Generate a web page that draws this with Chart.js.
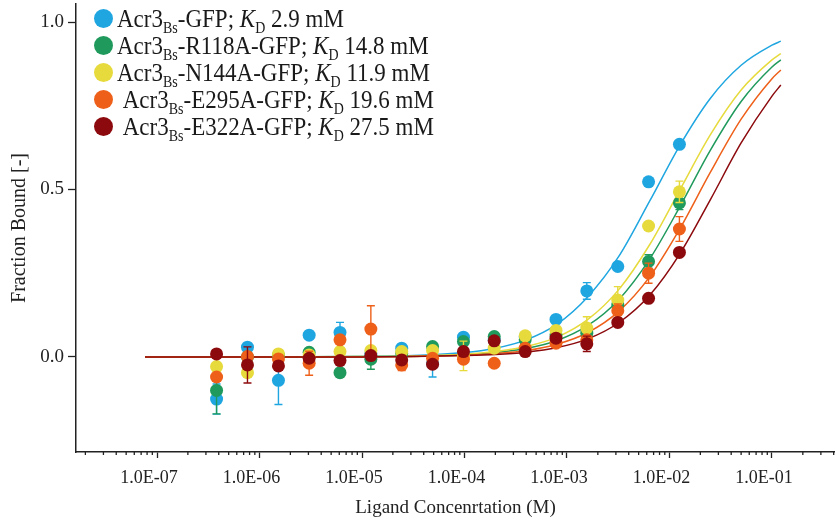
<!DOCTYPE html>
<html>
<head>
<meta charset="utf-8">
<script src="https://cdn.jsdelivr.net/npm/chart.js@4.4.1/dist/chart.umd.min.js"></script>
<style>
  html, body { margin: 0; padding: 0; background: #fff; }
  #wrap { position: relative; width: 835px; height: 521px; }
  #legend { position: absolute; left: 94px; top: 5px; font-family: "Liberation Serif", serif; font-size: 23px; color: #1a1a1a; }
  .row { height: 27px; line-height: 27px; white-space: nowrap; }
  .dot { display: inline-block; width: 19px; height: 19px; border-radius: 50%; vertical-align: middle; margin-right: 4px; position: relative; top: -2px; }
  .txt { display: inline-block; transform: scaleY(1.12); transform-origin: 50% 55%; }
  .row sub { font-size: 14px; vertical-align: -6px; line-height: 0; }
</style>
</head>
<body>
<div id="wrap">
  <canvas id="chart" width="835" height="521"></canvas>
  <div id="legend"></div>
</div>
<script>
// ligand concentrations (M), 2-fold dilution series
const conc = [3.81e-7, 7.63e-7, 1.53e-6, 3.05e-6, 6.10e-6, 1.22e-5, 2.44e-5, 4.88e-5,
              9.77e-5, 1.95e-4, 3.91e-4, 7.81e-4, 1.56e-3, 3.13e-3, 6.25e-3, 1.25e-2];

const wtY     = [-0.126, 0.029, -0.070, 0.065, 0.073, 0.010, 0.026, -0.020, 0.059, 0.050, 0.060, 0.112, 0.197, 0.270, 0.523, 0.635];
const r118aY  = [-0.100, 0.000, 0.005, 0.014, -0.047, -0.007, 0.010, 0.031, 0.046, 0.061, 0.051, 0.066, 0.071, 0.155, 0.285, 0.460];
const n144aY  = [-0.029, -0.047, 0.009, 0.006, 0.016, 0.019, 0.016, 0.019, 0.003, 0.026, 0.063, 0.079, 0.086, 0.170, 0.391, 0.493];
const e295aY  = [-0.060, 0.001, -0.006, -0.019, 0.051, 0.083, -0.024, -0.004, -0.007, -0.019, 0.026, 0.041, 0.051, 0.138, 0.250, 0.382];
const e322aY  = [0.009, -0.024, -0.027, -0.004, -0.011, 0.004, -0.009, -0.022, 0.016, 0.048, 0.016, 0.056, 0.039, 0.103, 0.175, 0.312];

const wtErr    = [0.045, 0.010, 0.072, 0.010, 0.030, 0.010, 0.010, 0.040, 0.010, 0.010, 0.010, 0.010, 0.025, 0.010, 0.010, 0.010];
const r118aErr = [0.070, 0.010, 0.010, 0.010, 0.010, 0.030, 0.010, 0.010, 0.010, 0.010, 0.010, 0.010, 0.010, 0.015, 0.020, 0.020];
const n144aErr = [0.010, 0.010, 0.010, 0.010, 0.010, 0.010, 0.010, 0.010, 0.044, 0.010, 0.010, 0.010, 0.034, 0.040, 0.010, 0.032];
const e295aErr = [0.010, 0.010, 0.010, 0.036, 0.010, 0.070, 0.017, 0.010, 0.010, 0.010, 0.010, 0.010, 0.010, 0.020, 0.030, 0.037];
const e322aErr = [0.010, 0.054, 0.010, 0.010, 0.010, 0.010, 0.010, 0.010, 0.010, 0.010, 0.010, 0.010, 0.023, 0.010, 0.010, 0.010];

// fitted curves
const fitConc = [7.63e-8, 1e-6, 1e-5, 1e-4, 2e-4, 4e-4, 8e-4, 1.6e-3, 3.2e-3, 6.4e-3, 1.28e-2, 2.5e-2, 5e-2, 1e-1, 1.22e-1];
const wtFit    = [0, 0, 0.001, 0.013, 0.026, 0.051, 0.098, 0.180, 0.300, 0.465, 0.635, 0.772, 0.871, 0.931, 0.943];
const r118aFit = [0, 0, 0.001, 0.006, 0.013, 0.025, 0.049, 0.094, 0.171, 0.292, 0.452, 0.617, 0.763, 0.866, 0.887];
const n144aFit = [0, 0, 0.001, 0.008, 0.016, 0.031, 0.059, 0.112, 0.201, 0.335, 0.502, 0.663, 0.797, 0.887, 0.906];
const e295aFit = [0, 0, 0, 0.005, 0.010, 0.019, 0.038, 0.073, 0.136, 0.239, 0.386, 0.551, 0.710, 0.831, 0.857];
const e322aFit = [0, 0, 0, 0.004, 0.007, 0.014, 0.028, 0.054, 0.102, 0.184, 0.311, 0.469, 0.639, 0.779, 0.812];

const names  = ['', '-R118A', '-N144A', '-E295A', '-E322A'];
const kdText = ['2.9', '14.8', '11.9', '19.6', '27.5'];
const colors = ['#1FA6E0', '#1F9A5C', '#E6DA3C', '#EE6019', '#8C0A0D'];

const xTickVals   = [1e-7, 1e-6, 1e-5, 1e-4, 1e-3, 1e-2, 1e-1];
const xTickLabels = ['1.0E-07', '1.0E-06', '1.0E-05', '1.0E-04', '1.0E-03', '1.0E-02', '1.0E-01'];
const yTickVals   = [0, 0.5, 1.0];

const xMin = 1.62e-8, xMax = 0.412;
const yMin = -0.284, yMax = 1.054;

const pointSets = [wtY, r118aY, n144aY, e295aY, e322aY];
const errSets   = [wtErr, r118aErr, n144aErr, e295aErr, e322aErr];
const fitSets   = [wtFit, r118aFit, n144aFit, e295aFit, e322aFit];

// legend (html, so the subscripts stay real text)
const legend = document.getElementById('legend');
names.forEach((n, i) => {
  const row = document.createElement('div');
  row.className = 'row';
  row.innerHTML = '<span class="dot" style="background:' + colors[i] + '"></span>' +
    (i >= 3 ? ' ' : '') + '<span class="txt">Acr3<sub>Bs</sub>' + n + '-GFP; <i>K</i><sub>D</sub> ' + kdText[i] + ' mM</span>';
  legend.appendChild(row);
});

// all ticks of the log axis: decades plus 2..9 minors
const allXTicks = [];
for (let e = -8; e <= -1; e++) {
  for (let m = 1; m <= 9; m++) {
    const v = m * Math.pow(10, e);
    if (v >= xMin && v <= xMax) allXTicks.push({ value: v, major: m === 1 });
  }
}

const datasets = [];
pointSets.forEach((vals, i) => {
  datasets.push({
    data: conc.map((c, k) => ({ x: c, y: vals[k] })),
    errors: errSets[i],
    backgroundColor: colors[i],
    borderColor: colors[i],
    pointRadius: 6.5,
    pointBorderWidth: 0,
    showLine: false,
    order: 5 - i
  });
});
fitSets.forEach((vals, i) => {
  datasets.push({
    data: fitConc.map((c, k) => ({ x: c, y: vals[k] })),
    borderColor: colors[i],
    borderWidth: 1.5,
    pointRadius: 0,
    showLine: true,
    cubicInterpolationMode: 'monotone',
    order: 10 - i
  });
});

const errorBars = {
  id: 'errorBars',
  afterDatasetDraw(chart, args) {
    const ds = chart.data.datasets[args.index];
    if (!ds.errors) return;
    const xs = chart.scales.x, ys = chart.scales.y, c = chart.ctx;
    c.save();
    c.strokeStyle = ds.borderColor;
    c.lineWidth = 1.4;
    ds.data.forEach((p, k) => {
      const e = ds.errors[k];
      const px = xs.getPixelForValue(p.x);
      const t = ys.getPixelForValue(p.y + e), b = ys.getPixelForValue(p.y - e);
      c.beginPath();
      c.moveTo(px, t); c.lineTo(px, b);
      c.moveTo(px - 4, t); c.lineTo(px + 4, t);
      c.moveTo(px - 4, b); c.lineTo(px + 4, b);
      c.stroke();
    });
    c.restore();
  }
};

const minorTicks = {
  id: 'minorTicks',
  afterDraw(chart) {
    const s = chart.scales.x, c = chart.ctx;
    c.save();
    c.strokeStyle = '#222';
    c.lineWidth = 1.3;
    s.ticks.forEach(t => {
      if (t.major) return;
      const px = s.getPixelForValue(t.value);
      c.beginPath();
      c.moveTo(px, s.top);
      c.lineTo(px, s.top + 3);
      c.stroke();
    });
    c.restore();
  }
};

Chart.defaults.font.family = '"Liberation Serif", "Times New Roman", serif';
Chart.defaults.color = '#222';

new Chart(document.getElementById('chart'), {
  type: 'scatter',
  data: { datasets: datasets },
  plugins: [errorBars, minorTicks],
  options: {
    responsive: false,
    animation: false,
    layout: { autoPadding: false, padding: { top: 4, right: 0, bottom: 0, left: 0 } },
    plugins: { legend: { display: false }, tooltip: { enabled: false } },
    scales: {
      x: {
        type: 'logarithmic',
        min: xMin,
        max: xMax,
        afterBuildTicks: s => { s.ticks = allXTicks.map(t => ({ value: t.value, major: t.major })); },
        afterFit: s => { s.height = 69; s.paddingLeft = 0; s.paddingRight = 0; },
        ticks: {
          autoSkip: false,
          maxRotation: 0,
          padding: 9,
          labelOffset: -8,
          font: { size: 18 },
          callback: v => {
            const i = xTickVals.findIndex(t => Math.abs(t - v) / t < 1e-6);
            return i >= 0 ? xTickLabels[i] : '';
          }
        },
        grid: {
          drawOnChartArea: false,
          tickLength: 6,
          tickWidth: 1.3,
          tickColor: ctx => (ctx.tick && ctx.tick.major) ? '#222' : 'rgba(0,0,0,0)'
        },
        border: { color: '#222', width: 1.5 },
        title: { display: true, text: 'Ligand Concenrtation (M)', font: { size: 19 }, padding: { top: 0, bottom: 2 } }
      },
      y: {
        min: yMin,
        max: yMax,
        afterBuildTicks: s => { s.ticks = yTickVals.map(v => ({ value: v })); },
        afterFit: s => { s.width = 76; s.paddingTop = 0; s.paddingBottom = 0; },
        ticks: { padding: 4, font: { size: 19 }, callback: v => Number(v).toFixed(1) },
        grid: { drawOnChartArea: false, tickLength: 8, tickWidth: 1.3, tickColor: '#222' },
        border: { color: '#222', width: 1.5 },
        title: { display: true, text: 'Fraction Bound [-]', font: { size: 20 }, padding: { top: 8, bottom: 0 } }
      }
    }
  }
});
</script>
</body>
</html>
